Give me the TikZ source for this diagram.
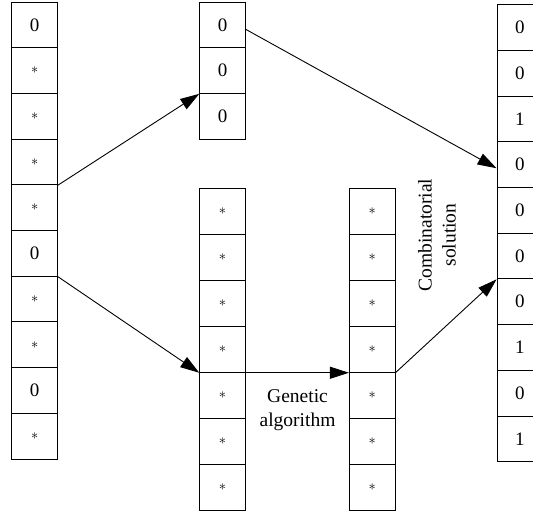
\documentclass[tikz,border=0pt]{standalone}
\usepackage{fontspec}
\setmainfont{Liberation Serif}
\usetikzlibrary{arrows.meta}
\tikzset{
  cellbox/.style={draw, line width=0.9pt, minimum width=45.6pt, minimum height=45.7pt,
    inner sep=0pt, font=\fontsize{19}{22}\selectfont},
  flow/.style={line width=0.9pt, -{Triangle[length=19pt,width=12pt]}},
  caption/.style={align=center, inner sep=0pt, font=\fontsize{19.5}{24}\selectfont}
}
\newcommand{\st}{{\fontsize{15}{15}\selectfont$\ast$}}
\begin{document}
\begin{tikzpicture}[x=1pt, y=-1pt]
  \useasboundingbox (0,0) rectangle (533,513);
  % source string
  \foreach \v [count=\i] in {0,\st,\st,\st,\st,0,\st,\st,0,\st}
    \node[cellbox] (L\i) at (34.6, {2+45.7*(\i-0.5)}) {\v};
  % fixed part
  \foreach \v [count=\i] in {0,0,0}
    \node[cellbox] (T\i) at (222.5, {2+45.7*(\i-0.5)}) {\v};
  % undetermined part before optimisation
  \foreach \i in {1,...,7}
    \node[cellbox, minimum height=45.9pt] (M\i) at (222.5, {188.7+45.9*(\i-0.5)}) {\st};
  % undetermined part after optimisation
  \foreach \i in {1,...,7}
    \node[cellbox, minimum height=45.9pt] (G\i) at (372.2, {188.7+45.9*(\i-0.5)}) {\st};
  % combined solution
  \foreach \v [count=\i] in {0,0,1,0,0,0,0,1,0,1}
    \node[cellbox] (R\i) at (519.8, {4.7+45.7*(\i-0.5)}) {\v};

  % connectors
  \draw[flow] (L4.south east) -- (T2.south west);
  \draw[flow] (L6.south east) -- (M4.south west);
  \draw[flow] (M4.south east) -- (G4.south west);
  \draw[flow] (G4.south east) -- (R6.south west);
  \draw[flow] ([yshift=-4.5pt]T1.east) -- ([yshift=-3.6pt]R4.west);

  % labels
  \node[caption] (ga) at (297.5, 410) {Genetic\\algorithm};
  \node[caption, rotate=90] (cs) at (437, 235) {Combinatorial\\solution};
\end{tikzpicture}
\end{document}
